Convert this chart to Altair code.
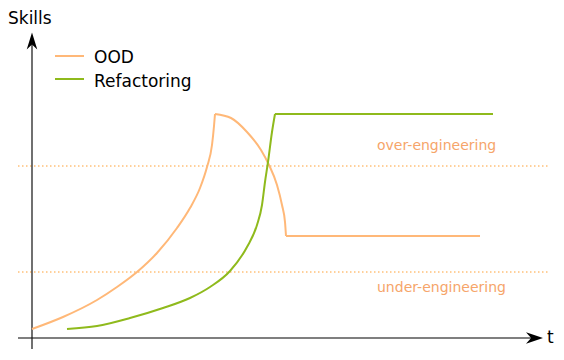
import altair as alt
import pandas as pd

# ---- data (t: time, s: skill level) ----
series = ["OOD", "Refactoring"]
colors = ["#ffb878", "#8fba1c"]

ood_t = [0, 31, 65, 85, 105, 125, 145, 158, 168, 175, 180, 182, 183,
         199, 215, 229, 237, 245, 250, 253, 254, 448]
ood_s = [9, 21, 38, 51, 66, 85, 110, 130, 150, 171, 193, 212, 224,
         220, 206, 188, 173, 153, 133, 116, 102, 102]

ref_t = [35, 65, 98, 131, 158, 178, 198, 215, 225, 230, 233, 236, 240, 243, 461]
ref_s = [9, 12, 20, 30, 40, 51, 67, 91, 113, 133, 156, 176, 206, 224, 224]

thresholds = [172, 66]
threshold_labels = ["over-engineering", "under-engineering"]

# ---- layout constants ----
W, H = 548, 344
FONT = "DejaVu Sans"
# indices where a curve has a sharp corner (segments are smoothed separately)
breaks = {series[0]: [12, 20], series[1]: [13]}

rows = []
for name, ts, ss in [(series[0], ood_t, ood_s), (series[1], ref_t, ref_s)]:
    cuts = [0] + breaks[name] + [len(ts) - 1]
    for seg in range(len(cuts) - 1):
        for i in range(cuts[seg], cuts[seg + 1] + 1):
            rows.append({"t": ts[i], "s": ss[i], "series": name,
                         "seg": f"{name}-{seg}", "i": i})
curves = pd.DataFrame(rows)

xs = alt.Scale(domain=[-24, 524], nice=False, zero=False)
ys = alt.Scale(domain=[-14, 330], nice=False, zero=False)

lines = alt.Chart(curves).mark_line(interpolate="monotone", strokeWidth=2).encode(
    x=alt.X("t:Q", scale=xs, axis=None),
    y=alt.Y("s:Q", scale=ys, axis=None),
    color=alt.Color("series:N", scale=alt.Scale(domain=series, range=colors), legend=None),
    detail="seg:N",
    order="i:Q",
)

thr = pd.DataFrame({"s": thresholds, "label": threshold_labels,
                    "x0": [-14, -14], "x1": [518, 518],
                    "lt": [345, 345], "ls": [188, 46]})

thr_rules = alt.Chart(thr).mark_rule(strokeDash=[1.5, 2.5], color="#ffa035", strokeWidth=1).encode(
    x=alt.X("x0:Q", scale=xs, axis=None),
    x2="x1:Q",
    y=alt.Y("s:Q", scale=ys, axis=None),
)

thr_text = alt.Chart(thr).mark_text(align="left", baseline="alphabetic", font=FONT,
                                    fontSize=14, color="#f6a56a").encode(
    x=alt.X("lt:Q", scale=xs, axis=None),
    y=alt.Y("ls:Q", scale=ys, axis=None),
    text="label:N",
)

# axes with arrowheads
yaxis = alt.Chart(pd.DataFrame({"a": [0]})).mark_rule(color="#111111", strokeWidth=1.2).encode(
    x=alt.value(24), y=alt.value(341), y2=alt.value(32))
xaxis = alt.Chart(pd.DataFrame({"a": [0]})).mark_rule(color="#555555", strokeWidth=1.6).encode(
    x=alt.value(10), x2=alt.value(530), y=alt.value(330))
arrow_x = alt.Chart(pd.DataFrame({"a": [0]})).mark_point(
    shape="M0,0 L-2,-0.68 L-1.4,0 L-2,0.68 Z", filled=True, size=289, opacity=1,
    color="#000000").encode(x=alt.value(535), y=alt.value(330))
arrow_y = alt.Chart(pd.DataFrame({"a": [0]})).mark_point(
    shape="M0,0 L-0.62,2 L0,1.4 L0.62,2 Z", filled=True, size=289, opacity=1,
    color="#000000").encode(x=alt.value(24), y=alt.value(24.5))

skills = alt.Chart(pd.DataFrame({"a": ["Skills"]})).mark_text(
    align="left", baseline="alphabetic", font=FONT, fontSize=17, color="#000000").encode(
    x=alt.value(0), y=alt.value(16), text="a:N")
tlab = alt.Chart(pd.DataFrame({"a": ["t"]})).mark_text(
    align="left", baseline="alphabetic", font=FONT, fontSize=17, color="#000000").encode(
    x=alt.value(539), y=alt.value(335), text="a:N")

# manual legend
leg_rows = []
for k, name in enumerate(series):
    leg_rows.append(alt.Chart(pd.DataFrame({"n": [name]})).mark_rule(
        color=colors[k], strokeWidth=2).encode(
        x=alt.value(47), x2=alt.value(76), y=alt.value(48 + 23 * k)))
    leg_rows.append(alt.Chart(pd.DataFrame({"n": [name]})).mark_text(
        align="left", baseline="alphabetic", font=FONT, fontSize=17, color="#000000").encode(
        x=alt.value(86), y=alt.value(55 + 23.5 * k), text="n:N"))

chart = alt.layer(thr_rules, thr_text, xaxis, yaxis, arrow_x, arrow_y, lines,
                  skills, tlab, *leg_rows).properties(
    width=W, height=H, padding=0, autosize=alt.AutoSizeParams(type="none"),
    background="white",
).configure_view(stroke=None)

chart.save("out.html", embed_options={"renderer": "svg", "actions": False})
